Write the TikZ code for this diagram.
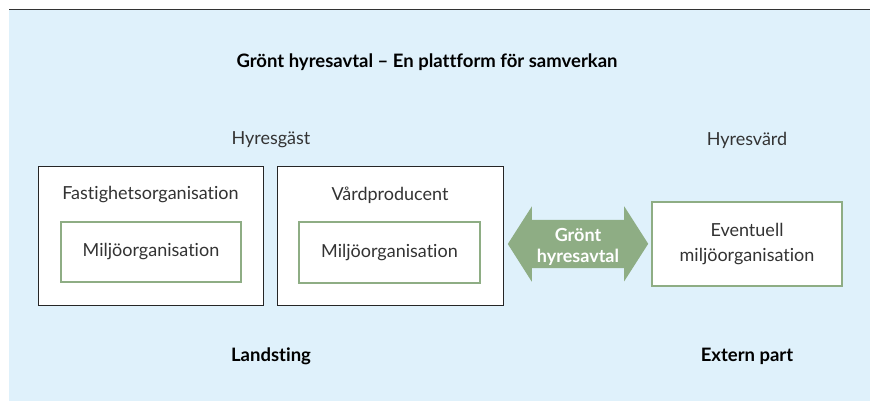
\documentclass[tikz,border=0pt]{standalone}
\usepackage{fontspec}
\setmainfont{Lato}[Ligatures=NoCommon]
\definecolor{panelblue}{HTML}{DFF1FB}
\definecolor{leafgreen}{HTML}{8EAD84}
\definecolor{inkgray}{HTML}{333333}
\begin{document}
\begin{tikzpicture}[x=1pt,y=-1pt,
  lbl/.style={font=\fontsize{18}{21}\selectfont, text=inkgray, inner sep=0pt},
  head/.style={font=\fontsize{18.5}{22}\selectfont\bfseries, text=black, inner sep=0pt},
  orgbox/.style={draw=black!85, line width=1pt, fill=white, inner sep=0pt},
  envbox/.style={draw=leafgreen, line width=2.6pt, fill=white, inner sep=0pt, align=center,
    font=\fontsize{18}{25}\selectfont, text=inkgray}]
\useasboundingbox (0,0) rectangle (870,403);
% panel and top rule
\fill[panelblue] (9,10) rectangle (870,401);
\draw[inkgray, line width=1.6pt] (9,9.5) -- (870,9.5);

% title
\node[head] (title) at (427,62) {Grönt hyresavtal – En plattform för samverkan};

% tenant side
\node[lbl] (tenant) at (271,140) {Hyresgäst};
\node[orgbox, minimum width=225, minimum height=139] (prop) at (150.5,236.5) {};
\node[lbl] (proplbl) at (150.5,194.5) {Fastighetsorganisation};
\node[envbox, minimum width=180, minimum height=60] (env1) at (151,252) {Miljöorganisation};

\node[orgbox, minimum width=226, minimum height=139] (care) at (390,236.5) {};
\node[lbl] (carelbl) at (390,195.5) {Vårdproducent};
\node[envbox, minimum width=181, minimum height=61] (env2) at (389.5,252.5) {Miljöorganisation};

\node[head] (county) at (271,356) {Landsting};

% landlord side
\node[lbl] (landlord) at (747,140) {Hyresvärd};
\node[envbox, minimum width=190, minimum height=84] (env3) at (747,244) {Eventuell\\miljöorganisation};
\node[head] (external) at (747,356) {Extern part};

% agreement arrow between the parties
\node[inner sep=0pt, minimum width=92, minimum height=48] (deal) at (578,244) {};
\fill[leafgreen] (deal.west) ++(-24,0) -- ++(24,-37.5) -- (deal.north west) -- (deal.north east)
  -- ++(0,-13.5) -- ++(24,37.5) -- ++(-24,37.5) -- (deal.south east) -- (deal.south west)
  -- ++(0,13.5) -- cycle;
\node[align=center, text=white, font=\fontsize{18}{21}\selectfont\bfseries, inner sep=0pt]
  (dealtxt) at ([yshift=-3]deal.center) {Grönt\\hyresavtal};
\end{tikzpicture}
\end{document}
